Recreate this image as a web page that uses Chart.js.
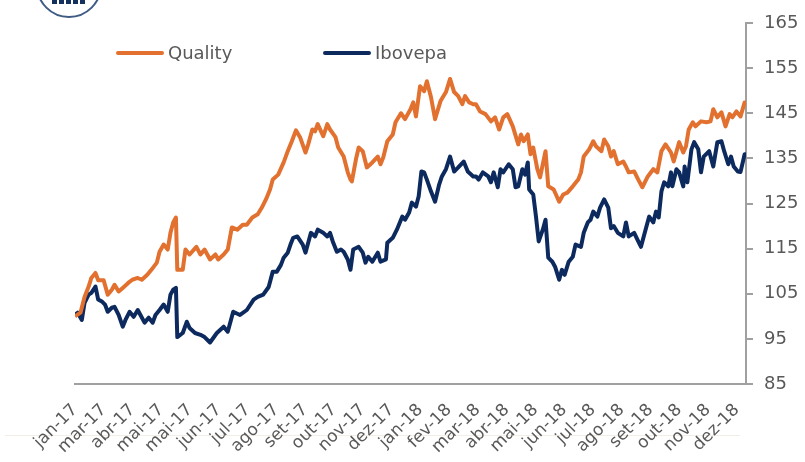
<!DOCTYPE html>
<html>
<head>
<meta charset="utf-8">
<script src="https://cdn.jsdelivr.net/npm/chart.js@4/dist/chart.umd.min.js"></script>
<style>
  html, body { margin: 0; padding: 0; background: #fff; }
  #wrap { position: relative; width: 805px; height: 462px; overflow: hidden; }
  #chart { position: absolute; left: 0; top: 0; }
  .logo { position: absolute; left: 36px; top: -48px; width: 62px; height: 62px; border: 2px solid #3e5b84; border-radius: 50%; }
  .logo-mark { position: absolute; left: 52px; top: 0; width: 35px; height: 4px;
    background: repeating-linear-gradient(90deg, #14305f 0 5px, #fff 5px 7px); }
  .faint { position: absolute; left: 5px; top: 435px; width: 735px; height: 1px; background: #f4ede6; }
  .legend { position: absolute; top: 42px; font: 18px "DejaVu Sans", Verdana, sans-serif; color: #595959; }
  .legend i { display: inline-block; width: 48px; height: 4px; border-radius: 2px; vertical-align: middle; margin-right: 4px; position: relative; top: -1px; }
</style>
</head>
<body>
<div id="wrap">
  <div class="faint"></div>
  <canvas id="chart" width="805" height="462"></canvas>
  <div class="logo"></div>
  <div class="logo-mark"></div>
  <div class="legend" style="left:116px"><i style="background:#e2702f"></i>Quality</div>
  <div class="legend" style="left:323px"><i style="background:#0d2a5e"></i>Ibovepa</div>
</div>
<script>
// Axis labels (as in the original, including the repeated "mai-17")
const monthLabels = ['jan-17', 'mar-17', 'abr-17', 'mai-17', 'mai-17', 'jun-17', 'jul-17', 'ago-17', 'set-17', 'out-17', 'nov-17', 'dez-17',
  'jan-18', 'fev-18', 'mar-18', 'abr-18', 'mai-18', 'jun-18', 'jul-18', 'ago-18', 'set-18', 'out-18', 'nov-18', 'dez-18'];
const totalDays = 492;   // trading days shown on the x axis
const tickEvery = 21.1;  // trading days between two labels

// Quality index: trading day / value (base 100)
const qualityDays = [0, 4, 7, 10, 12, 15, 17, 21, 24, 27, 29, 32, 35, 39, 42, 46, 49, 53, 56, 60,
  62, 65, 68, 70, 72, 74, 75, 79, 81, 84, 89, 92, 95, 99, 103, 105, 109, 112, 115, 119,
  123, 126, 130, 134, 137, 140, 143, 145, 149, 153, 156, 159, 162, 165, 169, 171, 174, 176, 178, 182,
  185, 187, 191, 193, 197, 200, 202, 203, 206, 208, 211, 214, 218, 222, 224, 226, 229, 233, 235, 239,
  242, 246, 248, 250, 253, 256, 258, 261, 264, 268, 272, 275, 278, 281, 284, 286, 289, 292, 294, 297,
  301, 305, 308, 311, 314, 317, 321, 325, 327, 329, 332, 334, 336, 339, 341, 345, 347, 351, 355, 358,
  361, 365, 369, 371, 373, 377, 380, 382, 386, 388, 391, 393, 395, 398, 402, 404, 406, 410, 413, 416,
  420, 424, 427, 430, 433, 437, 439, 443, 446, 448, 450, 453, 455, 459, 463, 466, 468, 471, 474, 477,
  480, 482, 485, 488, 491, 492];
const qualityValues = [100.0, 100.8, 104.3, 106.6, 108.5, 109.6, 108.0, 108.0, 104.8, 105.9, 107.0, 105.5, 106.3, 107.4, 108.1, 108.5, 108.1, 109.2, 110.3, 111.9,
  114.3, 115.9, 114.8, 118.5, 120.8, 121.9, 110.3, 110.3, 114.8, 113.7, 115.4, 113.7, 114.8, 112.6, 113.7, 112.6, 113.7, 114.8, 119.7, 119.2,
  120.3, 120.3, 121.9, 122.6, 124.1, 125.9, 128.1, 130.3, 131.4, 134.1, 136.6, 138.8, 141.2, 139.7, 136.3, 138.1, 141.4, 141.0, 142.6, 139.9,
  142.6, 141.4, 139.7, 137.4, 135.4, 131.9, 130.3, 129.9, 134.8, 137.4, 136.6, 133.0, 134.1, 135.4, 133.7, 135.2, 138.8, 140.3, 143.0, 145.0,
  143.7, 145.9, 147.4, 144.3, 151.0, 149.9, 152.1, 148.6, 143.7, 147.7, 149.7, 152.6, 149.7, 148.8, 147.0, 148.8, 147.4, 147.0, 147.0, 145.4,
  144.8, 143.2, 144.1, 141.4, 144.1, 144.8, 142.1, 138.1, 140.3, 138.8, 140.3, 135.9, 137.4, 132.6, 130.8, 136.6, 128.8, 128.1, 125.4, 127.0,
  127.4, 128.8, 130.3, 131.9, 135.4, 137.0, 138.8, 137.7, 136.6, 139.2, 137.7, 135.4, 136.6, 133.7, 134.3, 133.2, 131.9, 132.1, 130.3, 128.6,
  131.0, 132.6, 131.9, 136.6, 138.1, 136.3, 134.3, 138.6, 136.3, 137.7, 141.4, 143.0, 142.1, 143.2, 143.0, 143.2, 145.9, 144.1, 145.2, 142.1,
  144.8, 144.1, 145.4, 144.3, 147.4, 147.4];

// Ibovespa: trading day / value (base 100)
const iboveDays = [0, 2, 5, 7, 10, 12, 15, 17, 20, 22, 24, 27, 29, 32, 35, 37, 40, 43, 46, 48,
  51, 54, 57, 59, 62, 65, 68, 70, 72, 74, 75, 79, 82, 84, 88, 92, 95, 99, 104, 109,
  112, 116, 121, 126, 131, 134, 138, 142, 145, 148, 151, 153, 156, 158, 160, 163, 167, 169, 171, 173,
  176, 178, 182, 185, 187, 189, 192, 195, 197, 200, 202, 204, 208, 211, 213, 215, 218, 222, 224, 228,
  229, 233, 236, 240, 242, 245, 247, 250, 252, 254, 256, 258, 261, 264, 267, 269, 272, 275, 278, 281,
  285, 288, 292, 294, 296, 299, 303, 305, 307, 310, 312, 314, 318, 321, 323, 325, 328, 330, 332, 333,
  336, 338, 340, 343, 345, 347, 350, 352, 355, 357, 359, 362, 365, 367, 371, 373, 376, 378, 380, 383,
  385, 388, 391, 393, 395, 398, 402, 404, 406, 410, 413, 415, 419, 421, 424, 426, 428, 430, 432, 435,
  437, 438, 441, 443, 446, 447, 449, 452, 454, 457, 459, 461, 465, 468, 471, 474, 476, 479, 481, 483,
  486, 488, 491, 492];
const iboveValues = [100.3, 100.8, 99.2, 103.0, 104.8, 105.2, 106.6, 103.7, 103.2, 102.6, 101.0, 101.9, 102.1, 100.3, 97.7, 99.2, 101.0, 99.9, 101.4, 100.3,
  98.6, 99.7, 98.6, 100.3, 101.4, 102.6, 101.0, 104.8, 105.9, 106.3, 95.4, 96.3, 98.8, 97.4, 96.3, 95.9, 95.4, 94.2, 96.3, 97.7,
  96.6, 101.0, 100.3, 101.4, 103.7, 104.3, 104.8, 106.5, 109.9, 109.9, 111.4, 113.0, 114.1, 115.9, 117.4, 117.7, 115.9, 114.1, 116.3, 118.5,
  117.7, 119.2, 118.5, 117.7, 118.5, 116.6, 114.3, 114.8, 114.3, 112.6, 110.3, 114.8, 115.4, 114.1, 111.9, 113.2, 112.1, 114.1, 112.1, 112.6,
  116.3, 117.4, 119.2, 122.1, 121.4, 123.0, 125.2, 124.3, 126.6, 132.1, 131.9, 130.3, 127.7, 125.4, 129.2, 131.0, 132.6, 135.4, 132.1, 133.0,
  134.3, 132.1, 131.0, 131.0, 130.3, 131.9, 131.0, 129.7, 131.9, 128.6, 132.6, 131.9, 133.7, 132.6, 128.6, 128.8, 132.6, 131.4, 134.1, 128.1,
  127.0, 122.1, 116.6, 119.2, 121.4, 113.0, 112.1, 111.0, 108.1, 110.3, 109.2, 112.1, 113.2, 115.9, 115.4, 118.5, 120.8, 121.4, 123.2, 122.1,
  124.1, 125.9, 124.1, 119.5, 120.0, 118.5, 117.7, 120.8, 117.7, 118.5, 116.6, 115.4, 119.9, 122.1, 120.8, 123.2, 121.9, 127.7, 129.7, 128.8,
  131.9, 128.8, 132.6, 131.9, 128.8, 133.2, 129.7, 137.0, 138.6, 137.0, 131.9, 135.4, 136.6, 133.2, 138.6, 138.8, 136.6, 133.7, 135.4, 133.2,
  132.1, 132.0, 135.9, 135.9];

const ORANGE = '#e2702f';
const NAVY = '#0d2a5e';
const AXIS = '#a0a0a0';
const TEXT = '#595959';
const font = { family: '"DejaVu Sans", Verdana, sans-serif', size: 18 };

function toPoints(days, values) {
  return days.map((d, i) => ({ x: d, y: values[i] }));
}

const ctx = document.getElementById('chart').getContext('2d');
new Chart(ctx, {
  type: 'line',
  data: {
    datasets: [
      { label: 'Quality', data: toPoints(qualityDays, qualityValues), borderColor: ORANGE, borderWidth: 4, borderJoinStyle: 'round', pointRadius: 0, tension: 0, fill: false },
      { label: 'Ibovepa', data: toPoints(iboveDays, iboveValues), borderColor: NAVY, borderWidth: 4, borderJoinStyle: 'round', pointRadius: 0, tension: 0, fill: false }
    ]
  },
  options: {
    responsive: false,
    animation: false,
    devicePixelRatio: 1,
    layout: { padding: { left: 75, top: 23, right: 0, bottom: 0 } },
    plugins: { legend: { display: false }, tooltip: { enabled: false } },
    scales: {
      x: {
        type: 'linear',
        min: 0,
        max: totalDays,
        grid: { display: false, drawTicks: false },
        border: { display: true, color: AXIS, width: 2 },
        afterBuildTicks: s => { s.ticks = monthLabels.map((l, i) => ({ value: i * tickEvery })); },
        afterFit: s => { s.height = 78; },
        ticks: {
          autoSkip: false, maxRotation: 45, minRotation: 45, padding: 16,
          color: TEXT, font: { family: font.family, size: 17 },
          callback: (v, i) => monthLabels[i]
        }
      },
      y: {
        position: 'right',
        min: 85,
        max: 165,
        grid: { drawOnChartArea: false, drawTicks: true, tickLength: 7, color: AXIS, lineWidth: 2 },
        border: { display: true, color: AXIS, width: 2 },
        afterFit: s => { s.width = 59; },
        ticks: { stepSize: 10, padding: 11, color: TEXT, font: font }
      }
    }
  }
});
</script>
</body>
</html>
